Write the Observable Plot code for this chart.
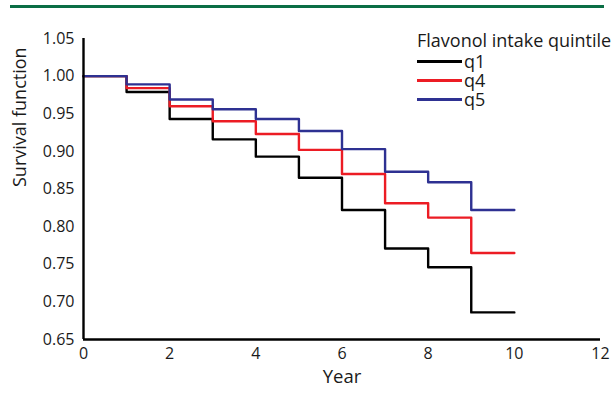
<!DOCTYPE html>
<html>
<head>
<meta charset="utf-8">
<script src="https://cdn.jsdelivr.net/npm/d3@7"></script>
<script src="https://cdn.jsdelivr.net/npm/@observablehq/plot@0.6"></script>
<style>
  html, body { margin: 0; padding: 0; background: #fff; }
  #wrap { position: relative; width: 614px; height: 420px; font-family: "Open Sans", sans-serif; }
  #topbar { position: absolute; left: 10px; top: 5px; width: 594px; height: 3px; background: #0a6e45; }
  #chart { position: absolute; left: 0; top: 0; }
  #legend { position: absolute; left: 417px; top: 28px; font-size: 18px; color: #1a1a1a; }
  #legend .title { height: 24px; line-height: 24px; }
  #legend .row { display: flex; align-items: center; height: 19px; }
  #legend .sw { width: 45px; height: 2.5px; margin-right: 2px; }
  #legend .lab { display: block; height: 19px; line-height: 19px; font-size: 18px; }
</style>
</head>
<body>
<div id="wrap">
  <div id="chart"></div>
  <div id="topbar"></div>
  <div id="legend"></div>
</div>
<script>
const years = [0, 1, 2, 3, 4, 5, 6, 7, 8, 9, 10];
const q1 = [1.000, 0.979, 0.943, 0.916, 0.893, 0.865, 0.822, 0.771, 0.746, 0.686, 0.686];
const q4 = [1.000, 0.984, 0.960, 0.940, 0.923, 0.902, 0.870, 0.831, 0.812, 0.765, 0.765];
const q5 = [1.000, 0.989, 0.969, 0.956, 0.943, 0.927, 0.903, 0.873, 0.859, 0.822, 0.822];
const seriesNames = ["q1", "q4", "q5"];
const seriesColors = ["#000000", "#ec1c24", "#2e3192"];
const xTicks = [0, 2, 4, 6, 8, 10, 12];
const yTicks = [0.65, 0.70, 0.75, 0.80, 0.85, 0.90, 0.95, 1.00, 1.05];
const legendTitle = "Flavonol intake quintile";
const xLabel = "Year";
const yLabel = "Survival function";

const seriesValues = [q1, q4, q5];
const rows = [];
seriesNames.forEach((name, i) => {
  years.forEach((yr, j) => rows.push({series: name, year: yr, value: seriesValues[i][j]}));
});

const chart = Plot.plot({
  width: 614,
  height: 420,
  marginLeft: 83,
  marginRight: 14,
  marginTop: 38,
  marginBottom: 81,
  style: {fontFamily: "Open Sans, sans-serif", fontSize: "16px", color: "#1a1a1a", background: "transparent"},
  x: {domain: [0, 12]},
  y: {domain: [0.65, 1.05]},
  color: {domain: seriesNames, range: seriesColors},
  marks: [
    Plot.axisX({ticks: xTicks, tickSize: 0, tickPadding: 8, label: null, fontSize: 16, tickFormat: d3.format("d")}),
    Plot.axisY({ticks: yTicks, tickSize: 0, tickPadding: 9, label: null, fontSize: 16, tickFormat: d3.format(".2f")}),
    Plot.line(rows, {x: "year", y: "value", z: "series", stroke: "series", curve: "step-after", strokeWidth: 2.4}),
    Plot.ruleX([0], {stroke: "#000", strokeWidth: 2.4}),
    Plot.ruleY([0.65], {stroke: "#000", strokeWidth: 2.4}),
    Plot.text([yLabel], {frameAnchor: "left", rotate: -90, dx: -63, dy: -2, fontSize: 18, fill: "#1a1a1a"}),
    Plot.text([xLabel], {frameAnchor: "bottom", dy: 43, fontSize: 18.5, fill: "#1a1a1a"})
  ]
});
document.getElementById("chart").appendChild(chart);

const legend = document.getElementById("legend");
const title = document.createElement("div");
title.className = "title";
title.textContent = legendTitle;
legend.appendChild(title);
seriesNames.forEach((name, i) => {
  const row = document.createElement("div");
  row.className = "row";
  const sw = document.createElement("div");
  sw.className = "sw";
  sw.style.background = seriesColors[i];
  const lab = document.createElement("span");
  lab.className = "lab";
  lab.textContent = name;
  row.appendChild(sw);
  row.appendChild(lab);
  legend.appendChild(row);
});
</script>
</body>
</html>
